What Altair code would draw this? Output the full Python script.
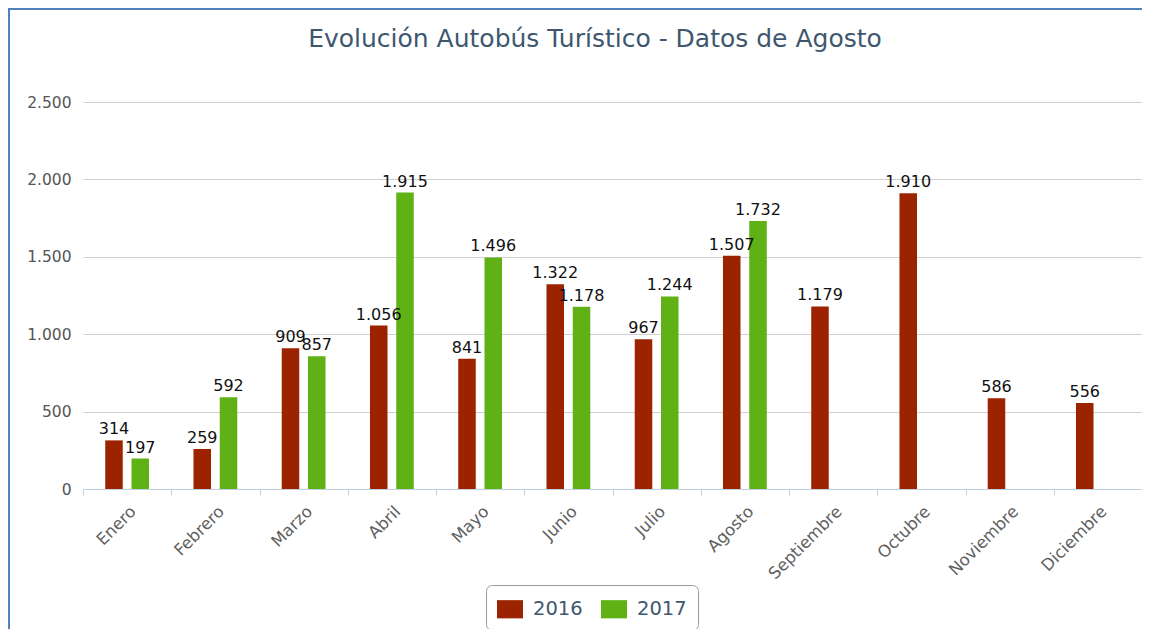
import altair as alt
import pandas as pd

meses = ["Enero", "Febrero", "Marzo", "Abril", "Mayo", "Junio", "Julio",
         "Agosto", "Septiembre", "Octubre", "Noviembre", "Diciembre"]
v2016 = [314, 259, 909, 1056, 841, 1322, 967, 1507, 1179, 1910, 586, 556]
v2017 = [197, 592, 857, 1915, 1496, 1178, 1244, 1732, None, None, None, None]
anios = ["2016", "2017"]
colores = ["#9C2300", "#5FB116"]
y_ticks = [0, 500, 1000, 1500, 2000, 2500]
titulo = "Evolución Autobús Turístico - Datos de Agosto"

rows = []
for m, a, b in zip(meses, v2016, v2017):
    rows.append({"mes": m, "anio": "2016", "valor": a})
    if b is not None:
        rows.append({"mes": m, "anio": "2017", "valor": b})
df = pd.DataFrame(rows)

FONT = "DejaVu Sans"

base = alt.Chart(df).encode(
    x=alt.X("mes:N", sort=meses,
            scale=alt.Scale(paddingInner=0, paddingOuter=0),
            axis=alt.Axis(title=None, labelAngle=-45, labelFontSize=16.5,
                          labelColor="#606060", labelFont=FONT,
                          labelPadding=8, domainColor="#C0D0E0",
                          tickColor="#C0D0E0", tickSize=6, tickBand="extent",
                          grid=False)),
    xOffset=alt.XOffset("anio:N", scale=alt.Scale(domain=anios, paddingInner=0.333, paddingOuter=0.846)),
    y=alt.Y("valor:Q",
            scale=alt.Scale(domain=[0, 2500], nice=False),
            axis=alt.Axis(title=None, values=y_ticks,
                          labelExpr="replace(datum.label, ',', '.')",
                          labelFontSize=15.5, labelColor="#555555", labelFont=FONT,
                          labelPadding=12, domain=False, ticks=False,
                          gridColor="#D0D0D0", gridWidth=1)),
)

bars = base.mark_bar().encode(
    color=alt.Color("anio:N", scale=alt.Scale(domain=anios, range=colores),
                    legend=alt.Legend(title=None, orient="none", direction="horizontal",
                                      legendX=403, legendY=483,
                                      symbolType="M-1,-0.7H1V0.7H-1Z",
                                      symbolSize=676, symbolStrokeWidth=0,
                                      symbolOpacity=1,
                                      labelFontSize=19.5, labelColor="#3E576F",
                                      labelFont=FONT, labelOffset=10,
                                      columnPadding=18, padding=11,
                                      strokeColor="#999999", cornerRadius=6,
                                      fillColor="white"))
)

labels = base.mark_text(dy=-11, fontSize=16, color="#111111", font=FONT).transform_calculate(
    etiqueta="replace(format(datum.valor, ','), ',', '.')"
).encode(text="etiqueta:N")

marco = pd.DataFrame({"t": [titulo]})
borde_izq = alt.Chart(marco).mark_rule(color="#4F81BD", strokeWidth=2).encode(
    x=alt.value(-74), y=alt.value(-94), y2=alt.value(540))
borde_sup = alt.Chart(marco).mark_rule(color="#4F81BD", strokeWidth=2).encode(
    x=alt.value(-75), x2=alt.value(1059), y=alt.value(-93))
texto_titulo = alt.Chart(marco).mark_text(
    fontSize=25, color="#3E576F", font=FONT, align="center", baseline="alphabetic"
).encode(x=alt.value(512), y=alt.value(-55), text="t:N")

chart = alt.layer(bars, labels, borde_izq, borde_sup, texto_titulo).properties(
    width=1059, height=387,
    autosize=alt.AutoSizeParams(type="none"),
    padding={"left": 75, "top": 94, "right": 0, "bottom": 140},
    background="white",
).configure_view(stroke=None)

chart.save("out.html", embed_options={"renderer": "svg", "actions": False})
